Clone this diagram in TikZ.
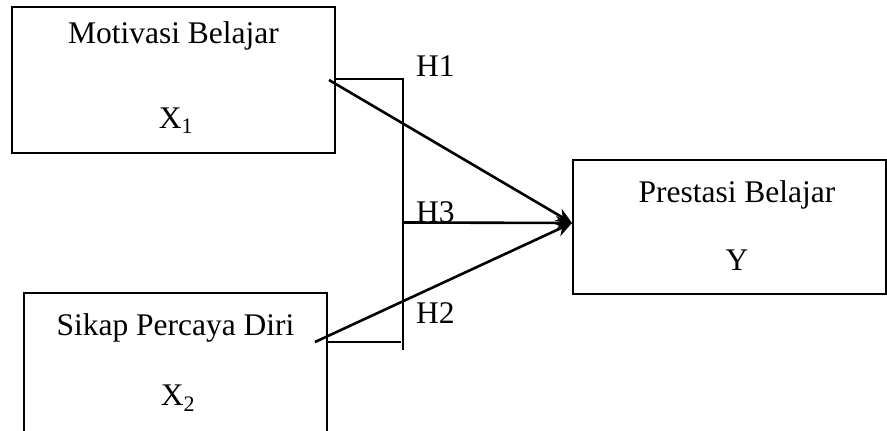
\documentclass[tikz,border=0pt]{standalone}
\usepackage{fontspec}
\setmainfont{Liberation Serif}
\usetikzlibrary{arrows.meta}
\begin{document}
\begin{tikzpicture}[x=1pt,y=-1pt,
  box/.style={draw,line width=1.8pt,rectangle,inner sep=0pt},
  lbl/.style={inner sep=0pt,anchor=base,font=\fontsize{31.5}{36}\selectfont},
  hlbl/.style={inner sep=0pt,anchor=base west,font=\fontsize{31.5}{36}\selectfont},
  brk/.style={line width=1.8pt},
  arr/.style={line width=2.6pt,-{Stealth[length=16pt,width=14pt]}}]
\useasboundingbox (0,0) rectangle (887,431);
\clip (0,0) rectangle (887,431);
% boxes
\node[box,minimum width=323pt,minimum height=146pt] (x1) at (173.5,80) {};
\node[box,minimum width=303pt,minimum height=152pt] (x2) at (175.5,369) {};
\node[box,minimum width=313pt,minimum height=134pt] (y) at (729.5,227) {};
% texts
\node[lbl] (t1) at (173.5,43) {Motivasi Belajar};
\node[lbl] (t1s) at (176,128) {X\textsubscript{1}};
\node[lbl] (t2) at (175.5,335) {Sikap Percaya Diri};
\node[lbl] (t2s) at (178,405) {X\textsubscript{2}};
\node[lbl] (t3) at (737,202) {Prestasi Belajar};
\node[lbl] (t3s) at (737,270) {Y};
% hypothesis labels
\node[hlbl] (h1) at (416,76) {H1};
\node[hlbl] (h3) at (416,222) {H3};
\node[hlbl] (h2) at (416,323) {H2};
% bracket
\coordinate (b1) at (335,79);
\coordinate (b2) at (403,79);
\coordinate (b3) at (403,350);
\coordinate (b4) at (327,342);
\coordinate (b5) at (401,342);
\draw[brk] (b1) -- (b2) -- (b3);
\draw[brk] (b4) -- (b5);
% arrows
\coordinate (s1) at (329,80);
\coordinate (s2) at (315,342);
\coordinate (s3) at (404,222.5);
\coordinate (tip) at (572,223);
\draw[arr] (s1) -- (tip);
\draw[arr] (s2) -- (tip);
\draw[arr] (s3) -- (tip);
\end{tikzpicture}
\end{document}
